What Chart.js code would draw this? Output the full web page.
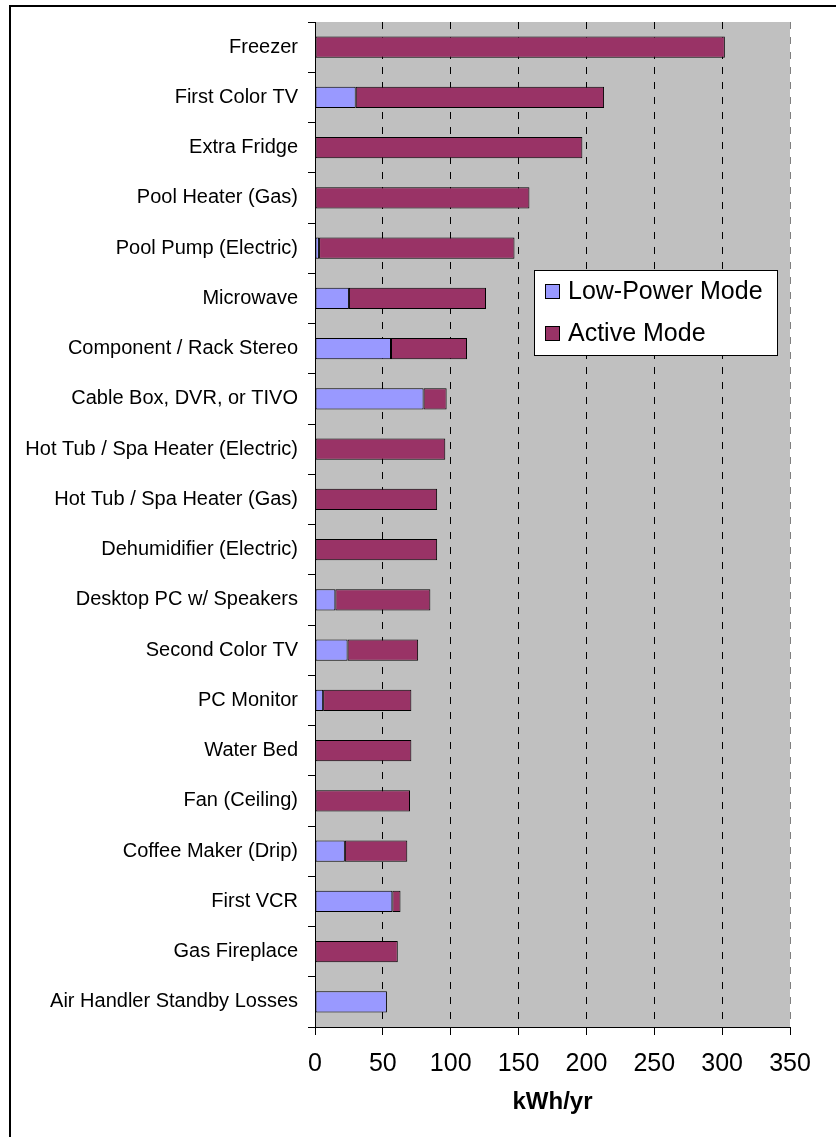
<!DOCTYPE html>
<html>
<head>
<meta charset="utf-8">
<script src="https://cdn.jsdelivr.net/npm/chart.js@4.4.1/dist/chart.umd.min.js"></script>
<style>
    html, body { margin: 0; padding: 0; background: #fff; }
    #wrap { position: relative; width: 836px; height: 1137px; overflow: hidden; }
    #frame { position: absolute; left: 9px; top: 5px; width: 1000px; height: 1300px;
             border-left: 2px solid #000; border-top: 2px solid #000; }
    #usageChart { position: absolute; left: 0; top: 0; }
</style>
</head>
<body>
<div id="wrap">
    <div id="frame"></div>
    <canvas id="usageChart" width="836" height="1137"></canvas>
</div>
<script>
// Appliance energy use, kWh/yr
const appliances = [
    'Freezer', 'First Color TV', 'Extra Fridge', 'Pool Heater (Gas)',
    'Pool Pump (Electric)', 'Microwave', 'Component / Rack Stereo',
    'Cable Box, DVR, or TIVO', 'Hot Tub / Spa Heater (Electric)',
    'Hot Tub / Spa Heater (Gas)', 'Dehumidifier (Electric)',
    'Desktop PC w/ Speakers', 'Second Color TV', 'PC Monitor', 'Water Bed',
    'Fan (Ceiling)', 'Coffee Maker (Drip)', 'First VCR', 'Gas Fireplace',
    'Air Handler Standby Losses'
];
const lowPowerMode = [null, 30, null, null, 3, 25, 56, 80, null, null, null, 15, 24, 6, null, null, 22, 57, null, 53];
const activeMode   = [302, 183, 197, 158, 144, 101, 56, 17, 96, 90, 90, 70, 52, 65, 71, 70, 46, 6, 61, null];
const xTicks = [0, 50, 100, 150, 200, 250, 300, 350];

const FONT = "'Liberation Sans', Arial, sans-serif";

// gray plot background
const plotBackground = {
    id: 'plotBackground',
    beforeDraw(chart) {
        const {ctx, chartArea: a} = chart;
        ctx.save();
        ctx.fillStyle = '#c0c0c0';
        ctx.fillRect(a.left, a.top, a.right - a.left, a.bottom - a.top);
        ctx.restore();
    }
};

// boxed legend sitting inside the plot
const boxLegend = {
    id: 'boxLegend',
    afterDraw(chart) {
        const ctx = chart.ctx;
        const x = 534, y = 270, w = 243, h = 85;
        ctx.save();
        ctx.fillStyle = '#fff';
        ctx.fillRect(x, y, w, h);
        ctx.strokeStyle = '#000';
        ctx.lineWidth = 1;
        ctx.strokeRect(x + 0.5, y + 0.5, w, h);
        ctx.font = '25px ' + FONT;
        ctx.textBaseline = 'middle';
        chart.data.datasets.forEach((ds, i) => {
            const cy = y + 21 + i * 42;
            ctx.fillStyle = ds.backgroundColor;
            ctx.fillRect(x + 11, cy - 7, 14, 14);
            ctx.strokeRect(x + 11.5, cy - 6.5, 14, 14);
            ctx.fillStyle = '#000';
            ctx.fillText(ds.label, x + 34, cy + 1);
        });
        ctx.restore();
    }
};

new Chart(document.getElementById('usageChart'), {
    type: 'bar',
    data: {
        labels: appliances,
        datasets: [{
            label: 'Low-Power Mode',
            data: lowPowerMode,
            backgroundColor: '#9999ff',
            borderColor: '#000',
            borderWidth: 1,
            borderSkipped: false
        }, {
            label: 'Active Mode',
            data: activeMode,
            backgroundColor: '#993366',
            borderColor: '#000',
            borderWidth: 1,
            borderSkipped: false
        }]
    },
    options: {
        indexAxis: 'y',
        responsive: false,
        devicePixelRatio: 1,
        animation: false,
        barPercentage: 0.42,
        categoryPercentage: 1,
        layout: { padding: { top: 20, right: 46, left: 0, bottom: 0 } },
        plugins: {
            legend: { display: false },
            tooltip: { enabled: false }
        },
        scales: {
            x: {
                stacked: true,
                min: 0,
                max: 350,
                afterFit: s => { s.height = 110; },
                afterBuildTicks: s => { s.ticks = xTicks.map(v => ({ value: v })); },
                grid: {
                    color: c => (c.tick && c.tick.value === 350 ? '#808080' : '#000'),
                    lineWidth: 1,
                    tickColor: '#000',
                    tickLength: 8,
                    tickBorderDash: []
                },
                border: { display: true, color: '#000', width: 1, dash: [7, 8] },
                ticks: {
                    color: '#000',
                    padding: 14,
                    font: { family: FONT, size: 25 }
                },
                title: {
                    display: true,
                    text: 'kWh/yr',
                    color: '#000',
                    padding: { top: 0, bottom: 20 },
                    font: { family: FONT, size: 24, weight: 'bold' }
                }
            },
            y: {
                stacked: true,
                afterFit: s => { s.width = 315; },
                grid: {
                    drawOnChartArea: false,
                    color: '#000',
                    tickLength: 7
                },
                border: { display: true, color: '#000', width: 1 },
                ticks: {
                    color: '#000',
                    padding: 10,
                    autoSkip: false,
                    font: { family: FONT, size: 20 }
                }
            }
        }
    },
    plugins: [plotBackground, boxLegend]
});
</script>
</body>
</html>
